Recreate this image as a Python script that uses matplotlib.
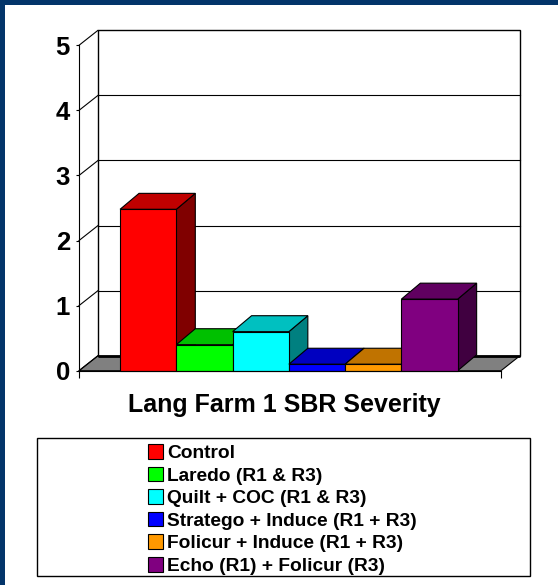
import matplotlib
matplotlib.use("Agg")
import matplotlib.pyplot as plt
from matplotlib.patches import Polygon, Rectangle, Patch

plt.rcParams['font.family'] = ['Liberation Sans', 'DejaVu Sans']

# ---- data ----
treatments = ["Control", "Laredo (R1 & R3)", "Quilt + COC (R1 & R3)",
              "Stratego + Induce (R1 + R3)", "Folicur + Induce (R1 + R3)",
              "Echo (R1) + Folicur (R3)"]
severity = [2.48, 0.4, 0.6, 0.1, 0.1, 1.1]
front_colors = ["#FF0000", "#00FF00", "#00FFFF", "#0000FF", "#FF9900", "#800080"]
top_colors = ["#C00000", "#00C000", "#00C0C0", "#0000C0", "#C07300", "#600060"]
side_colors = ["#800000", "#008000", "#008080", "#000080", "#804C00", "#400040"]
y_ticks = [0, 1, 2, 3, 4, 5]
title = "Lang Farm 1 SBR Severity"

W, H = 558, 585
fig = plt.figure(figsize=(W / 100, H / 100), dpi=100)
fig.patch.set_facecolor("#03356A")
fig.patches.append(Rectangle((5 / W, 0), 1, 1 - 4.5 / H, transform=fig.transFigure,
                             facecolor="white", edgecolor="none", zorder=-10))

x0_px, x1_px = 79, 501
y0_px, y5_px = 370.7, 45.3
ax = fig.add_axes([x0_px / W, 1 - y0_px / H, (x1_px - x0_px) / W, (y0_px - y5_px) / H])
ax.set_zorder(5)
ax.set_facecolor("none")
xmax = 7.5
ax.set_xlim(0, xmax)
ax.set_ylim(0, 5)

# depth offsets (data units)
ddx, ddy = 0.337, 0.23      # walls
bdx, bdy = 0.337, 0.245     # bars

lw = 0.8
# floor
ax.add_patch(Polygon([(0, 0), (xmax, 0), (xmax + ddx, ddy), (ddx, ddy)], closed=True,
                     facecolor="#808080", edgecolor="black", lw=lw, clip_on=False, zorder=1))
# back wall
ax.add_patch(Rectangle((ddx, ddy), xmax, 5, facecolor="white", edgecolor="black",
                       lw=1.0, clip_on=False, zorder=1))
ax.plot([ddx, ddx + xmax], [ddy, ddy], color="black", lw=2.0, clip_on=False, zorder=2,
        solid_capstyle="butt")
for t in y_ticks[1:-1]:
    ax.plot([ddx, ddx + xmax], [t + ddy, t + ddy], color="black", lw=lw, clip_on=False, zorder=2)
# side wall diagonals
for t in y_ticks:
    ax.plot([0, ddx], [t, t + ddy], color="black", lw=lw, clip_on=False, zorder=2)

# bars
start = 0.73
for i, v in enumerate(severity):
    x = start + i
    z = 3 + i
    ax.add_patch(Polygon([(x + 1, 0), (x + 1 + bdx, bdy), (x + 1 + bdx, v + bdy), (x + 1, v)],
                         closed=True, facecolor=side_colors[i], edgecolor="black", lw=lw,
                         clip_on=False, zorder=z))
    ax.add_patch(Polygon([(x, v), (x + 1, v), (x + 1 + bdx, v + bdy), (x + bdx, v + bdy)],
                         closed=True, facecolor=top_colors[i], edgecolor="black", lw=lw,
                         clip_on=False, zorder=z))
    ax.add_patch(Rectangle((x, 0), 1, v, facecolor=front_colors[i], edgecolor="black", lw=lw,
                           clip_on=False, zorder=z))

# axes styling
for s in ["top", "right"]:
    ax.spines[s].set_visible(False)
ax.spines["left"].set_linewidth(lw)
ax.spines["bottom"].set_linewidth(lw)
ax.spines["bottom"].set_zorder(20)
ax.set_yticks(y_ticks)
ax.set_yticklabels([str(t) for t in y_ticks], fontsize=18.5, fontweight="bold")
ax.tick_params(axis="y", length=2.5, width=lw, pad=4)
ax.set_xticks([0, xmax])
ax.set_xticklabels(["", ""])
ax.tick_params(axis="x", length=5, width=lw)

# title
fig.text(284.5 / W, 1 - 405 / H, title, ha="center", va="center",
         fontsize=18, fontweight="bold")

# legend frame
fig.patches.append(Rectangle((38 / W, 1 - 577 / H), 493 / W, 139 / H, transform=fig.transFigure,
                             facecolor="#888888", edgecolor="none", zorder=1))
fig.patches.append(Rectangle((36.7 / W, 1 - 575.5 / H), 493 / W, 138 / H, transform=fig.transFigure,
                             facecolor="white", edgecolor="black", lw=1.0, zorder=2))
handles = [Patch(facecolor=c, edgecolor="black", lw=0.8) for c in front_colors]
leg = fig.legend(handles, treatments, loc="upper left",
                 bbox_to_anchor=(148 / W, 1 - 444 / H), frameon=False,
                 prop={"family": "Liberation Sans", "weight": "bold", "size": 13.8},
                 handlelength=0.8, handleheight=0.8, handletextpad=0.2,
                 labelspacing=0.24, borderpad=0, borderaxespad=0)
leg.set_zorder(6)

fig.savefig("out.png", dpi=100, facecolor=fig.get_facecolor())
